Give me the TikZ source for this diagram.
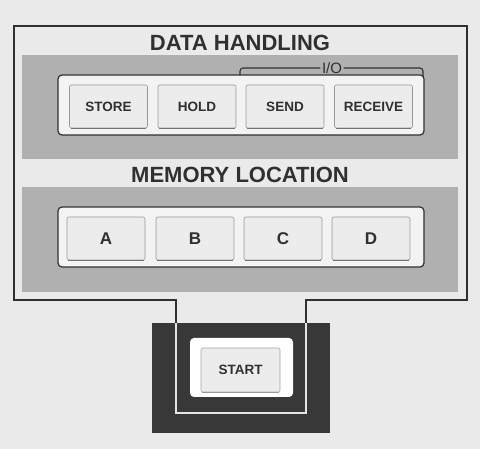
\documentclass[tikz,border=0pt]{standalone}
\usepackage{fontspec}
\setmainfont{Liberation Sans}
\definecolor{bgc}{RGB}{234,234,234}
\definecolor{panelc}{RGB}{176,176,176}
\definecolor{darkc}{RGB}{56,56,56}
\definecolor{stripc}{RGB}{243,243,243}
\definecolor{btnc}{RGB}{236,236,236}
\definecolor{inkc}{RGB}{48,48,48}
\begin{document}
\begin{tikzpicture}[x=1pt,y=-1pt,
  panel/.style={fill=panelc},
  strip/.style={fill=stripc,draw=inkc,line width=1.2pt,rounded corners=4pt},
  btn/.style={draw=black!40,fill=btnc,rounded corners=2pt,line width=0.6pt,
    minimum width=78pt,minimum height=43pt,inner sep=0pt,text=inkc,
    font=\bfseries\fontsize{13.5}{13.5}\selectfont},
  bigbtn/.style={btn,font=\bfseries\fontsize{17}{17}\selectfont},
  shade/.style={draw=black!55,line width=1.3pt},
  title/.style={text=inkc,font=\bfseries\fontsize{22}{22}\selectfont},
  frame/.style={draw=inkc,line width=1.6pt}]
\useasboundingbox[fill=bgc] (0,0) rectangle (480,449);
% frame outline
\coordinate (f1) at (14,26); \coordinate (f2) at (467,26);
\coordinate (f3) at (467,300); \coordinate (f4) at (306,300);
\coordinate (f5) at (306,413); \coordinate (f6) at (176,413);
\coordinate (f7) at (176,300); \coordinate (f8) at (14,300);
\draw[frame] (f1) -- (f2) -- (f3) -- (f4) -- (f5) -- (f6) -- (f7) -- (f8) -- cycle;
% dark box and white part of frame inside it
\fill[darkc] (152,323) rectangle (330,433);
\draw[draw=white!90!black,line width=1.6pt] (176,323) -- (f6) -- (f5) -- (306,323);
% panels
\fill[panel] (22,55) rectangle (458,159);
\fill[panel] (22,187) rectangle (458,292);
\node[title] (dh) at (240,43) {DATA HANDLING};
\node[title] (ml) at (240,175) {MEMORY LOCATION};
% I/O bracket
\node[text=inkc,font=\fontsize{15}{15}\selectfont,inner sep=1.5pt] (io) at (332,68) {I/O};
\draw[draw=inkc,line width=1.1pt,rounded corners=3pt] (240,77) -- (240,68) -- (io.west);
\draw[draw=inkc,line width=1.1pt,rounded corners=3pt] (io.east) -- (423,68) -- (423,77);
% strips
\draw[strip] (58,75) rectangle (424,135);
\draw[strip] (58,207) rectangle (424,267);
% data handling buttons
\foreach \n/\x/\t in {store/108.5/STORE,hold/197/HOLD,send/285/SEND,receive/373.5/RECEIVE}{
  \node[btn] (\n) at (\x,106.5) {\t};
  \draw[shade] ([xshift=1.5pt]\n.south west) -- ([xshift=-1.5pt]\n.south east);
}
% memory buttons
\foreach \n/\x in {A/106,B/195,C/283,D/371}{
  \node[bigbtn] (m\n) at (\x,238.5) {\n};
  \draw[shade] ([xshift=1.5pt]m\n.south west) -- ([xshift=-1.5pt]m\n.south east);
}
% start
\fill[white,rounded corners=4pt] (190,338) rectangle (293,397);
\node[btn,minimum width=79pt,minimum height=44pt,draw=black!35] (start) at (240.5,370) {START};
\draw[shade,draw=black!40,line width=1pt] ([xshift=1.5pt]start.south west) -- ([xshift=-1.5pt]start.south east);
\end{tikzpicture}
\end{document}
